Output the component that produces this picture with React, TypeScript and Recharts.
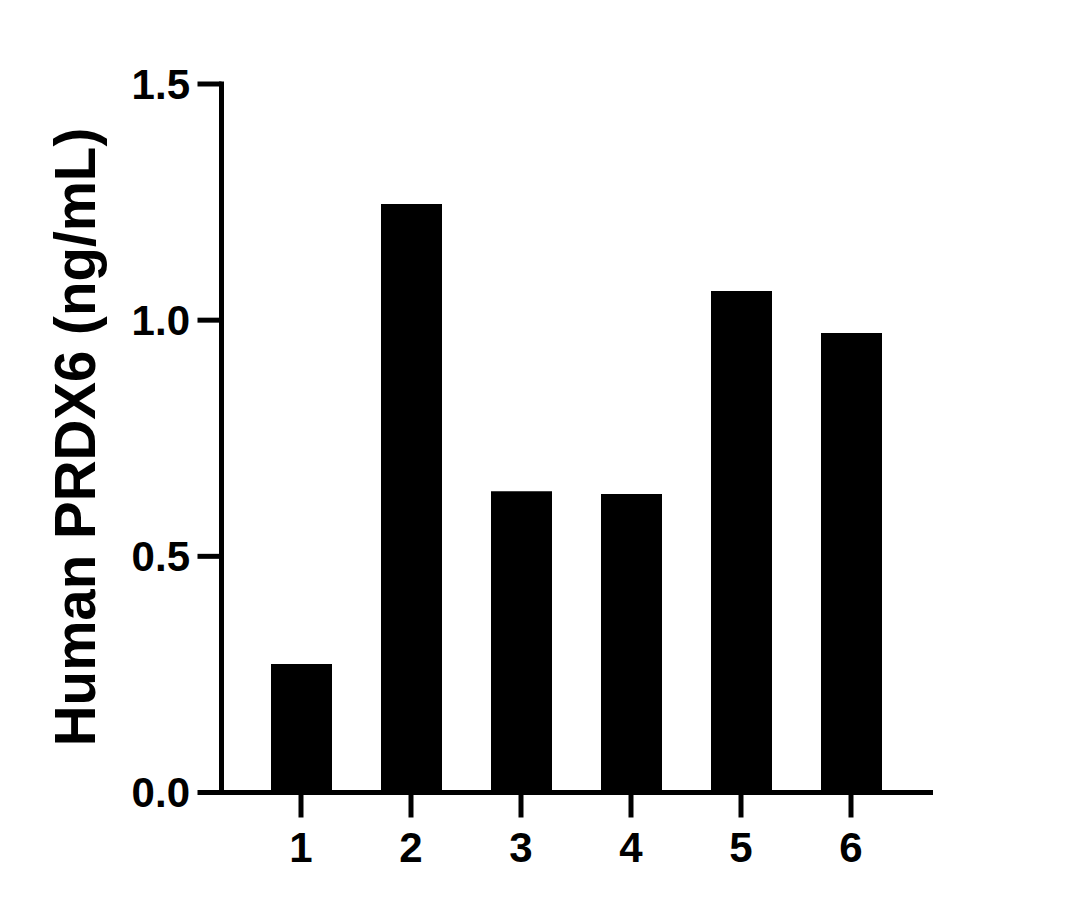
import { Bar, BarChart, XAxis, YAxis } from "recharts";

const categories = ["1", "2", "3", "4", "5", "6"];
const values = [0.272, 1.246, 0.638, 0.632, 1.062, 0.973];
const yTicks = [0, 0.5, 1.0, 1.5];

const font = '"Liberation Sans", Arial, sans-serif';
const tickStyle = { fill: "#000", fontSize: 42, fontWeight: 700, fontFamily: font };
const lineStyle = { stroke: "#000", strokeWidth: 5 };

export default function App() {
  const data = categories.map((name, i) => ({ name, value: values[i] }));

  return (
    <div style={{ position: "absolute", left: 0, top: 0, background: "#fff" }}>
      <BarChart
        width={1069}
        height={909}
        data={data}
        margin={{ top: 84, right: 138.5, bottom: 36.5, left: 101.5 }}
      >
        <XAxis
          dataKey="name"
          height={80}
          padding={{ left: 24.5, right: 24.5 }}
          tickSize={25}
          tickMargin={14.5}
          axisLine={{ ...lineStyle, strokeLinecap: "square" }}
          tickLine={lineStyle}
          tick={tickStyle}
        />
        <YAxis
          width={120}
          domain={[0, 1.5]}
          ticks={yTicks}
          interval={0}
          tickFormatter={(v) => v.toFixed(1)}
          tickSize={24}
          tickMargin={7.5}
          axisLine={{ ...lineStyle, strokeLinecap: "square" }}
          tickLine={lineStyle}
          tick={tickStyle}
          label={{
            content: () => (
              <text
                x={95}
                y={437}
                transform="rotate(-90 95 437)"
                textAnchor="middle"
                fill="#000"
                fontSize={56.5}
                fontWeight={700}
                fontFamily={font}
              >
                Human PRDX6 (ng/mL)
              </text>
            ),
          }}
        />
        <Bar dataKey="value" fill="#000" barSize={61} isAnimationActive={false} />
      </BarChart>
    </div>
  );
}
